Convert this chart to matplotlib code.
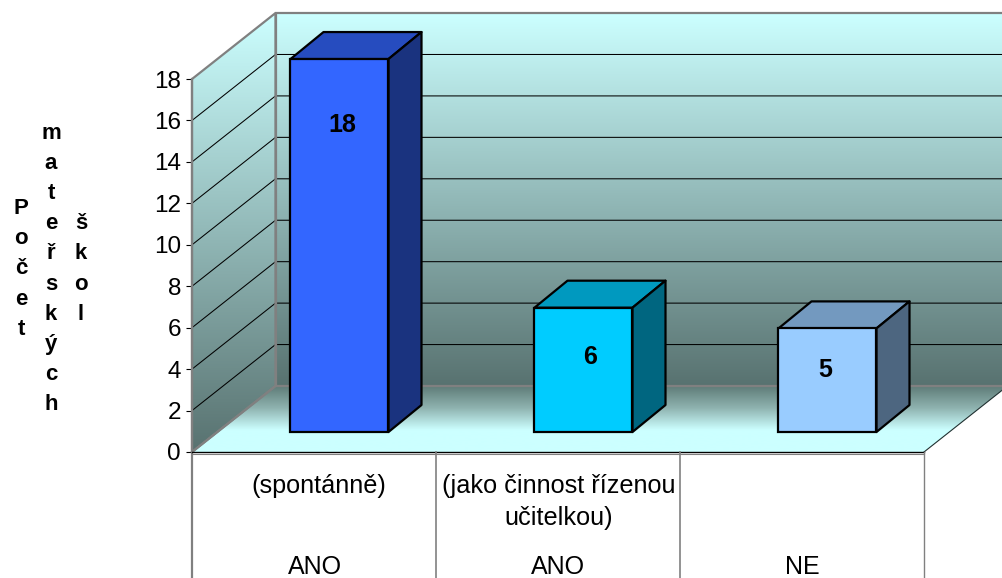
import numpy as np
import matplotlib
matplotlib.use("Agg")
import matplotlib.pyplot as plt
from matplotlib.patches import Polygon
from matplotlib.colors import LinearSegmentedColormap

plt.rcParams['font.family'] = ['Liberation Sans', 'DejaVu Sans']

# ---- data ----
values = [18, 6, 5]
data_labels = ['18', '6', '5']
sub_labels = ['(spontánně)', '(jako činnost řízenou\nučitelkou)', '']
group_labels = ['ANO', 'ANO', 'NE']
y_ticks = list(range(0, 20, 2))
y_title = ['Počet', 'mateřských', 'škol']
front_colors = ['#3366FF', '#00CCFF', '#99CCFF']
top_colors = ['#264CBF', '#0099BF', '#7399BF']
side_colors = ['#1A337F', '#006680', '#4D6680']

# ---- layout (pixels) ----
W, H = 1003, 578
PX_X = 244.0    # px per category
PX_Y = 20.72    # px per value unit
X0, Y0 = 192.0, 452.0
label_dx_px = [2.5, 6.5, -2.5]
label_drop_px = [65.5, 49.5, 41.5]
sub_cx_px = [318.5, 558.5, 0]
group_cx_px = [315, 558.5, 802]
title_x_px = [21, 51, 81]

fig = plt.figure(figsize=(W / 100, H / 100), dpi=100, facecolor='white')
ax = fig.add_axes([0, 0, 1, 1])
xmin, xmax = (0 - X0) / PX_X, (W - X0) / PX_X
ymin, ymax = (Y0 - H) / PX_Y, Y0 / PX_Y

dx = lambda p: p / PX_X
dy = lambda p: p / PX_Y
px_x = lambda p: (p - X0) / PX_X
px_y = lambda p: (Y0 - p) / PX_Y
WALL_DX, WALL_DY = dx(83.5), dy(66)
BAR_DX, BAR_DY = dx(33), dy(27)
BASE = dy(20)
BAR_W = 98 / PX_X
n = len(values)
top = max(y_ticks)

cmap_wall = LinearSegmentedColormap.from_list('w', ['#CCFFFF', '#587270'])
cmap_floor = LinearSegmentedColormap.from_list('f', ['#5F7C78', '#8FB3B0', '#CCFFFF', '#CCFFFF'])
grad = np.linspace(0, 1, 256).reshape(-1, 1)

back = Polygon([(WALL_DX, WALL_DY), (n + WALL_DX, WALL_DY), (n + WALL_DX, top + WALL_DY), (WALL_DX, top + WALL_DY)],
               closed=True, fc='none', ec='#808080', lw=1.6, zorder=2.5)
side = Polygon([(0, 0), (WALL_DX, WALL_DY), (WALL_DX, top + WALL_DY), (0, top)],
               closed=True, fc='none', ec='#808080', lw=1.6, zorder=2.5)
floor = Polygon([(0, 0), (n, 0), (n + WALL_DX, WALL_DY), (WALL_DX, WALL_DY)],
                closed=True, fc='none', ec='none', zorder=2.5)
for p in (back, side, floor):
    ax.add_patch(p)

im1 = ax.imshow(grad, extent=(WALL_DX, n + WALL_DX, WALL_DY, top + WALL_DY), cmap=cmap_wall,
                aspect='auto', origin='upper', zorder=1)
im1.set_clip_path(back)
im2 = ax.imshow(grad, extent=(0, WALL_DX, 0, top + WALL_DY), cmap=cmap_wall,
                aspect='auto', origin='upper', zorder=1)
im2.set_clip_path(side)
im3 = ax.imshow(grad, extent=(0, n + WALL_DX, 0, WALL_DY), cmap=cmap_floor,
                aspect='auto', origin='upper', zorder=1)
im3.set_clip_path(floor)
ax.set_xlim(xmin, xmax)
ax.set_ylim(ymin, ymax)

# gridlines
for t in y_ticks[1:-1]:
    ax.plot([0, WALL_DX, n + WALL_DX], [t, t + WALL_DY, t + WALL_DY], color='black', lw=0.75, zorder=2,
            solid_joinstyle='miter')

# floor edges
ax.plot([0, WALL_DX], [0, WALL_DY], color='#808080', lw=1.6, zorder=2.5)
ax.plot([n, n + WALL_DX], [0, WALL_DY], color='#203030', lw=0.8, zorder=2.5)
ax.plot([0, n], [0, 0], color='black', lw=1.0, zorder=3)
ax.plot([0, n], [dy(-1.5), dy(-1.5)], color='#808080', lw=0.8, zorder=3)

# bars
centers = np.arange(n) + 0.6045
ax.bar(centers, values, width=BAR_W, bottom=BASE, color=front_colors, edgecolor='black', linewidth=1.6, zorder=5)
for i, (c, v, tc, sc, lab) in enumerate(zip(centers, values, top_colors, side_colors, data_labels)):
    l, r = c - BAR_W / 2, c + BAR_W / 2
    b, t = BASE, BASE + v
    ax.add_patch(Polygon([(l, t), (r, t), (r + BAR_DX, t + BAR_DY), (l + BAR_DX, t + BAR_DY)],
                         fc=tc, ec='black', lw=1.6, joinstyle='round', zorder=4))
    ax.add_patch(Polygon([(r, b), (r + BAR_DX, b + BAR_DY), (r + BAR_DX, t + BAR_DY), (r, t)],
                         fc=sc, ec='black', lw=1.6, joinstyle='round', zorder=4))
    ax.text(c + dx(label_dx_px[i]), t - dy(label_drop_px[i]), lab, ha='center', va='center',
            fontsize=18, fontweight='bold', color='black', zorder=6)

# axis
ax.set_yticks(y_ticks)
ax.set_xticks([])
ax.tick_params(axis='y', direction='out', length=4.5, width=0.8, color='black', pad=3.5, labelsize=17.5,
               labelcolor='black')
for s in ('top', 'right', 'bottom'):
    ax.spines[s].set_visible(False)
ax.spines['left'].set_position(('data', 0))
ax.spines['left'].set_bounds(ymin, top)
ax.spines['left'].set_color('#808080')
ax.spines['left'].set_linewidth(1.6)

# multi-level category table
for i in range(1, n + 1):
    ax.plot([i, i], [0, ymin], color='#808080', lw=1.2 if i < n else 1.0, zorder=3)
for i, (s, g) in enumerate(zip(sub_labels, group_labels)):
    if s:
        ax.text(px_x(sub_cx_px[i]), px_y(473.5), s, ha='center', va='top', fontsize=18.2,
                linespacing=1.45, color='black', zorder=6)
    ax.text(px_x(group_cx_px[i]), px_y(567.5), g, ha='center', va='center', fontsize=18,
            color='black', zorder=6)

# stacked y title
for px, word in zip(title_x_px, y_title):
    ax.text(px_x(px), px_y(269), '\n'.join(word), ha='center', va='center',
            fontsize=16, fontweight='bold', linespacing=1.575, color='black', multialignment='center')

fig.savefig('out.png', dpi=100, facecolor='white')
